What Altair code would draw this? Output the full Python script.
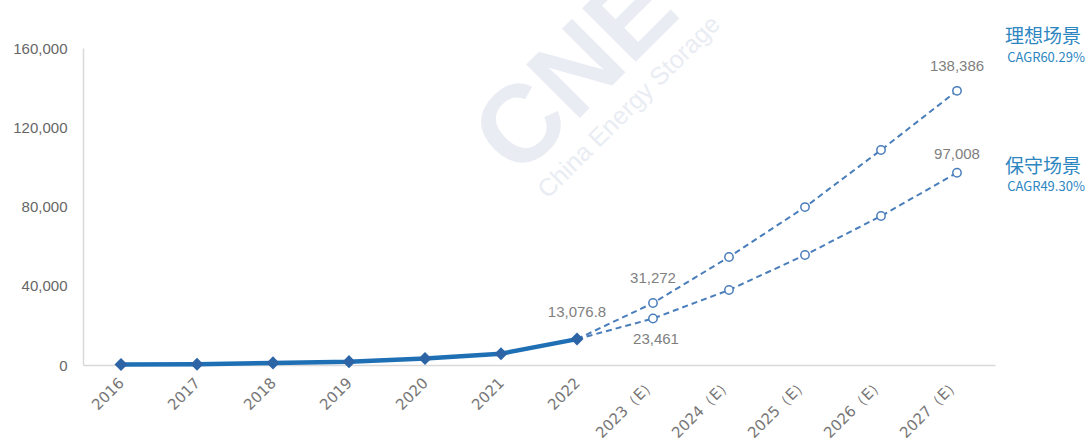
import altair as alt
import pandas as pd

years = ["2016", "2017", "2018", "2019", "2020", "2021", "2022",
         "2023（E）", "2024（E）", "2025（E）", "2026（E）", "2027（E）"]
actual = [243, 390, 1070, 1700, 3280, 5730, 13076.8]
ideal_years = years[6:]
ideal = [13076.8, 31272, 54500, 79700, 108500, 138386]
cons = [13076.8, 23461, 37850, 55500, 75200, 97008]

df_act = pd.DataFrame({"year": years[:7], "value": actual})
df_ideal = pd.DataFrame({"year": ideal_years, "value": ideal})
df_cons = pd.DataFrame({"year": ideal_years, "value": cons})

x = alt.X("year:N", sort=years, title=None,
          scale=alt.Scale(domain=years),
          axis=alt.Axis(labelAngle=-45, labelAlign="right", labelBaseline="middle",
                        labelFontSize=15, labelColor="#777777", labelFont="DejaVu Sans",
                        domainColor="#d9d9d9", domainWidth=1.5, ticks=False, labelPadding=15,
                        grid=False))
y = alt.Y("value:Q", title=None,
          scale=alt.Scale(domain=[0, 160000], nice=False),
          axis=alt.Axis(values=[0, 40000, 80000, 120000, 160000], format=",.0f",
                        labelFontSize=15, labelColor="#666666", labelFont="Liberation Sans",
                        domainColor="#d9d9d9", domainWidth=1.5, ticks=False,
                        labelPadding=16, grid=False))

# watermark
wm = alt.Chart(pd.DataFrame({"t": ["CNE"]})).mark_text(
    text="CNE", fontSize=110, fontWeight="bold", font="Liberation Sans",
    color="#e9edf3", angle=315, align="center", baseline="middle"
).encode(x=alt.value(494), y=alt.value(26))
wm2 = alt.Chart(pd.DataFrame({"t": ["China Energy Storage"]})).mark_text(
    text="China Energy Storage", fontSize=25, font="Liberation Sans",
    color="#e9edf3", angle=315, align="center", baseline="middle"
).encode(x=alt.value(546), y=alt.value(59))

line_act = alt.Chart(df_act).mark_line(color="#1f6fb5", strokeWidth=4.5).encode(x=x, y=y)
pts_act = alt.Chart(df_act).mark_point(shape="diamond", filled=True, size=170,
                                       color="#2c64a6", opacity=1).encode(x=x, y=y)

line_ideal = alt.Chart(df_ideal).mark_line(color="#4a7ebb", strokeWidth=2,
                                           strokeDash=[6, 4]).encode(x=x, y=y)
line_cons = alt.Chart(df_cons).mark_line(color="#4a7ebb", strokeWidth=2,
                                         strokeDash=[6, 4]).encode(x=x, y=y)
pts_ideal = alt.Chart(df_ideal.iloc[1:]).mark_point(shape="circle", filled=False, size=70,
                                                   color="#4a7ebb", strokeWidth=1.5,
                                                   fill="white", fillOpacity=1).encode(x=x, y=y)
pts_cons = alt.Chart(df_cons.iloc[1:]).mark_point(shape="circle", filled=False, size=70,
                                                 color="#4a7ebb", strokeWidth=1.5,
                                                 fill="white", fillOpacity=1).encode(x=x, y=y)

lab_font = dict(fontSize=15, color="#7f7f7f", font="Liberation Sans")
lab_2022 = alt.Chart(df_act.iloc[[6]]).mark_text(dy=-27, **lab_font).encode(
    x=x, y=y, text=alt.Text("value:Q", format=",.1f"))
lab_ideal = alt.Chart(df_ideal.iloc[[1, 5]]).mark_text(dy=-25, **lab_font).encode(
    x=x, y=y, text=alt.Text("value:Q", format=",.0f"))
lab_cons_a = alt.Chart(df_cons.iloc[[1]]).mark_text(dy=20, dx=3, **lab_font).encode(
    x=x, y=y, text=alt.Text("value:Q", format=",.0f"))
lab_cons_b = alt.Chart(df_cons.iloc[[5]]).mark_text(dy=-19, **lab_font).encode(
    x=x, y=y, text=alt.Text("value:Q", format=",.0f"))

sc_font = "Noto Sans CJK SC"
sc1 = alt.Chart(df_ideal.iloc[[5]]).mark_text(text="理想场景", dx=86, dy=-54, fontSize=19,
                                             color="#2e86c1", font=sc_font, align="center").encode(x=x, y=y)
sc1b = alt.Chart(df_ideal.iloc[[5]]).mark_text(text="CAGR60.29%", dx=89, dy=-33, fontSize=13,
                                              color="#2e86c1", font=sc_font, align="center").encode(x=x, y=y)
sc2 = alt.Chart(df_cons.iloc[[5]]).mark_text(text="保守场景", dx=86, dy=-6, fontSize=19,
                                            color="#2e86c1", font=sc_font, align="center").encode(x=x, y=y)
sc2b = alt.Chart(df_cons.iloc[[5]]).mark_text(text="CAGR49.30%", dx=89, dy=14, fontSize=13,
                                             color="#2e86c1", font=sc_font, align="center").encode(x=x, y=y)

chart = alt.layer(
    wm, wm2, line_ideal, line_cons, line_act, pts_act, pts_ideal, pts_cons,
    lab_2022, lab_ideal, lab_cons_a, lab_cons_b, sc1, sc1b, sc2, sc2b
).properties(
    width=912, height=317,
    autosize=alt.AutoSizeParams(type="none"),
    padding={"left": 83, "top": 48, "right": 97, "bottom": 83},
    background="white"
).configure_view(stroke=None)

chart.save("out.html", embed_options={"renderer": "svg", "actions": False})
